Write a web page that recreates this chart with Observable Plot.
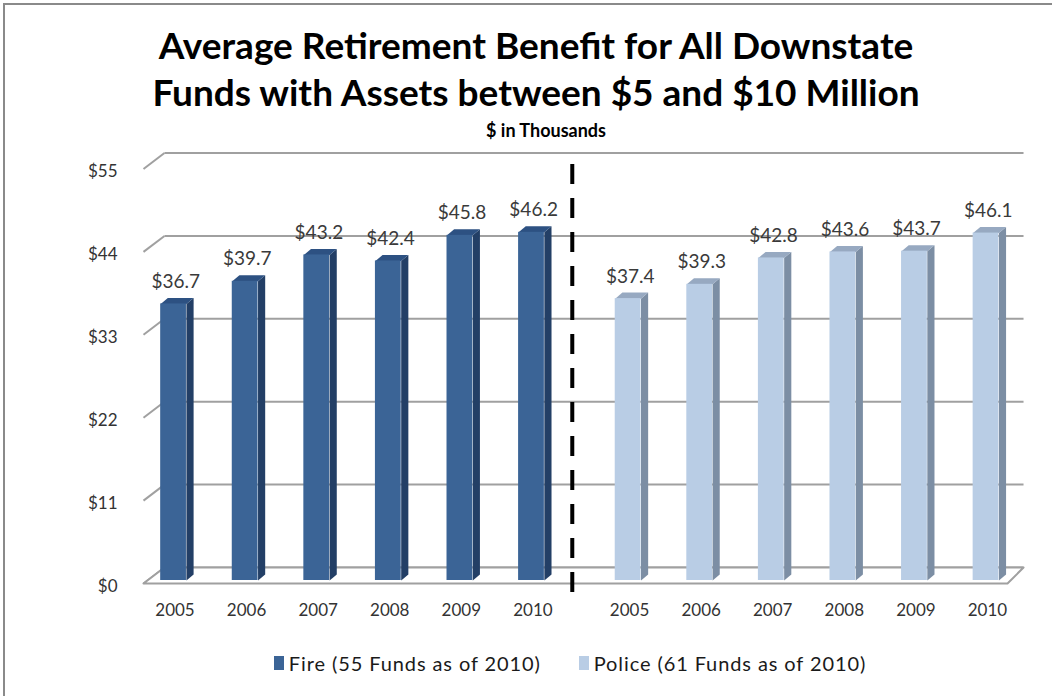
<!DOCTYPE html>
<html>
<head>
<meta charset="utf-8">
<script src="https://cdn.jsdelivr.net/npm/d3@7"></script>
<script src="https://cdn.jsdelivr.net/npm/@observablehq/plot@0.6"></script>
<style>
  html, body { margin: 0; padding: 0; background: #fff; }
  #wrap { position: relative; width: 1052px; height: 696px; overflow: hidden; background: #fff; font-family: Lato, "Open Sans", sans-serif; }
  #frame { position: absolute; left: 3px; top: 3px; width: 1060px; height: 700px; border-left: 2px solid #8a8a8a; border-top: 2px solid #8a8a8a; box-sizing: border-box; pointer-events: none; }
  #chart { position: absolute; left: 0; top: 0; }
  .title { position: absolute; left: 0; width: 1072px; text-align: center; font-weight: 700; color: #000; font-size: 37px; white-space: nowrap; }
  #sub { position: absolute; left: 0; width: 1092px; text-align: center; font-weight: 700; font-size: 18px; top: 119px; color: #000; }
  #legend { position: absolute; top: 651px; left: 40px; width: 1060px; display: flex; justify-content: center; gap: 38px; font-size: 20px; letter-spacing: 0.9px; color: #1a1a1a; }
  .li { display: flex; align-items: center; gap: 5px; }
  .sw { width: 10px; height: 14px; display: inline-block; }
</style>
</head>
<body>
<div id="wrap">
  <div id="chart"></div>
  <div class="title" style="top:22px">Average Retirement Benefit for All Downstate</div>
  <div class="title" style="top:69px">Funds with Assets between $5 and $10 Million</div>
  <div id="sub">$ in Thousands</div>
  <div id="legend"></div>
  <div id="frame"></div>
</div>
<script>
// ---- data ----
const years = ["2005", "2006", "2007", "2008", "2009", "2010"];
const fire = [36.7, 39.7, 43.2, 42.4, 45.8, 46.2];
const police = [37.4, 39.3, 42.8, 43.6, 43.7, 46.1];
const seriesNames = ["Fire (55 Funds as of 2010)", "Police (61 Funds as of 2010)"];
const yTicks = [0, 11, 22, 33, 44, 55];

// ---- layout / style ----
const groupStart = [0, 6.35];
const colors = [
  {front: "#3b6496", side: "#233f66", top: "#2d5182"},
  {front: "#b9cde5", side: "#7c8ea4", top: "#97a9c1"}
];
const halfW = 0.18, depX = 0.1, depY = 0.8; // bar depth in data units
const xL = -0.42, xR = 11.65;               // floor front corners
const bxL = -0.127, bxR = 11.874, bY = 2.12; // back-wall offsets

const bars = [];
[fire, police].forEach((vals, s) => vals.forEach((v, i) => bars.push({s, year: years[i], v, pos: groupStart[s] + i, id: s * 10 + i})));

function poly(fn) { return bars.flatMap(b => fn(b).map(([x, y]) => ({x, y, id: b.id, s: b.s}))); }
const sides = poly(b => [[b.pos + halfW, 0], [b.pos + halfW, b.v], [b.pos + halfW + depX, b.v + depY], [b.pos + halfW + depX, depY]]);
const tops = poly(b => [[b.pos - halfW, b.v], [b.pos + halfW, b.v], [b.pos + halfW + depX, b.v + depY], [b.pos - halfW + depX, b.v + depY]]);
const floor = [[xL, 0], [xR, 0], [bxR, bY], [bxL, bY], [xL, 0]].map(([x, y]) => ({x, y}));

const grid = "#a0a0a0";
const marks = [
  // back wall gridlines
  Plot.link(yTicks, {x1: bxL, x2: bxR, y1: d => d + bY, y2: d => d + bY, stroke: grid, strokeWidth: 2}),
  // side wall slants
  Plot.link(yTicks, {x1: xL, x2: bxL, y1: d => d, y2: d => d + bY, stroke: grid, strokeWidth: 2}),
  // floor
  Plot.line(floor, {x: "x", y: "y", fill: "#fff", stroke: grid, strokeWidth: 2}),
  // tick labels
  Plot.text(yTicks, {x: xL, y: d => d, text: d => "$" + d, textAnchor: "end", dx: -26, dy: 3, fontSize: 17, fill: "#333"})
];
[0, 1].forEach(s => {
  const c = colors[s];
  marks.push(
    Plot.line(sides.filter(d => d.s === s), {x: "x", y: "y", z: "id", fill: c.side, stroke: null, dy: -3}),
    Plot.line(tops.filter(d => d.s === s), {x: "x", y: "y", z: "id", fill: c.top, stroke: null, dy: -3}),
    Plot.rect(bars.filter(d => d.s === s), {x1: d => d.pos - halfW, x2: d => d.pos + halfW, y1: 0, y2: "v", fill: c.front, dy: -3})
  );
});
marks.push(
  Plot.text(bars, {x: d => d.pos + 0.03, y: "v", text: d => "$" + d.v.toFixed(1), dy: -25, fontSize: 19, fill: "#3a3a3a"}),
  Plot.text(bars, {x: d => d.pos + 0.02, y: 0, text: "year", dy: 27, fontSize: 17, fill: "#333"}),
  Plot.ruleX([5.57], {y1: -1.2, y2: 56.5, stroke: "#000", strokeWidth: 4, strokeDasharray: "20,14"})
);

const chart = Plot.plot({
  width: 1052, height: 696,
  marginTop: 168.5, marginBottom: 113, marginLeft: 143, marginRight: 45,
  x: {type: "linear", domain: [xL, xR], axis: null},
  y: {domain: [0, 55], axis: null},
  style: {fontFamily: "Lato, 'Open Sans', sans-serif", background: "transparent", overflow: "visible"},
  marks
});
document.getElementById("chart").appendChild(chart);

const leg = document.getElementById("legend");
seriesNames.forEach((n, s) => {
  const it = document.createElement("div");
  it.className = "li";
  it.innerHTML = `<span class="sw" style="background:${colors[s].front}"></span><span>${n}</span>`;
  leg.appendChild(it);
});
</script>
</body>
</html>
